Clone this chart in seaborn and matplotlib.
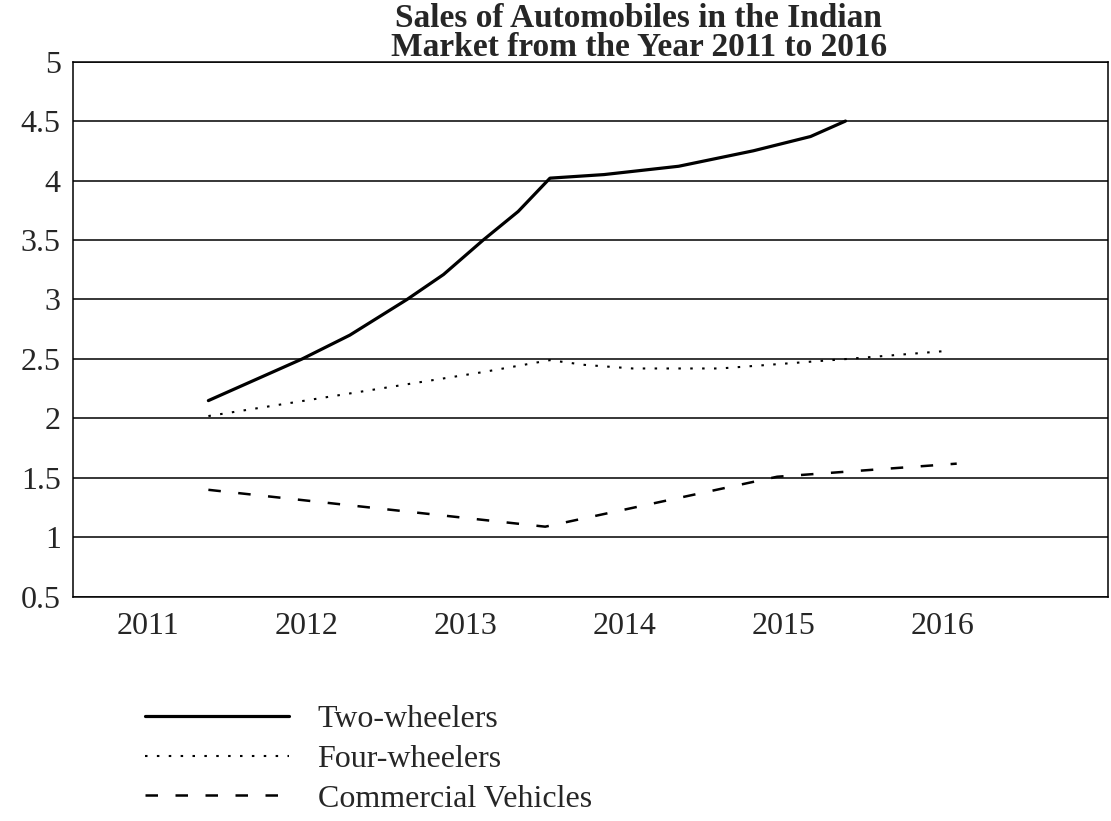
import matplotlib
matplotlib.use("Agg")
import matplotlib.pyplot as plt
import seaborn as sns
import pandas as pd

# values (x in fractional years, y in sales)
two_x = [2011.38, 2011.97, 2012.27, 2012.63, 2012.86, 2013.11, 2013.33, 2013.53,
         2013.87, 2014.34, 2014.81, 2015.17, 2015.39]
two_y = [2.15, 2.50, 2.70, 3.00, 3.21, 3.50, 3.74, 4.02,
         4.05, 4.12, 4.25, 4.37, 4.50]

four_x = [2011.38, 2012.27, 2013.11, 2013.53, 2013.75, 2014.05, 2014.6, 2015.0, 2015.4, 2016.05]
four_y = [2.02, 2.21, 2.39, 2.49, 2.45, 2.42, 2.42, 2.46, 2.50, 2.57]

comm_x = [2011.38, 2013.50, 2014.96, 2016.09]
comm_y = [1.40, 1.09, 1.51, 1.62]

years = [2011, 2012, 2013, 2014, 2015, 2016]
y_ticks = [0.5, 1, 1.5, 2, 2.5, 3, 3.5, 4, 4.5, 5]
y_labels = ["0.5", "1", "1.5", "2", "2.5", "3", "3.5", "4", "4.5", "5"]
names = ["Two-wheelers", "Four-wheelers", "Commercial Vehicles"]

sns.set_style("white")
plt.rcParams['font.family'] = ['Liberation Serif', 'DejaVu Serif']

fig = plt.figure(figsize=(11.11, 8.21), dpi=100)
ax = fig.add_axes([0.066, 0.273, 0.931, 0.652])

df_two = pd.DataFrame({"year": two_x, "sales": two_y})
df_four = pd.DataFrame({"year": four_x, "sales": four_y})
df_comm = pd.DataFrame({"year": comm_x, "sales": comm_y})

sns.lineplot(data=df_two, x="year", y="sales", ax=ax, color="black",
             linewidth=2.3, label=names[0])
sns.lineplot(data=df_four, x="year", y="sales", ax=ax, color="black",
             linewidth=1.5, linestyle=(0, (1.2, 4.5)), label=names[1])
sns.lineplot(data=df_comm, x="year", y="sales", ax=ax, color="black",
             linewidth=1.8, linestyle=(0, (5, 7)), label=names[2])

ax.set_xlim(2010.53, 2017.04)
ax.set_ylim(0.5, 5)
ax.set_xticks(years)
ax.set_xticklabels([str(y) for y in years], fontsize=23)
ax.set_yticks(y_ticks)
ax.set_yticklabels(y_labels, fontsize=23)
ax.tick_params(axis="x", direction="out", length=7, width=1, color="black", pad=4)
ax.tick_params(axis="y", length=0, pad=9)
ax.grid(axis="y", color="black", linewidth=1.1)
ax.set_xlabel("")
ax.set_ylabel("")
for s in ax.spines.values():
    s.set_color("black")
    s.set_linewidth(1.1)

fig.text(0.575, 1 - 27 / 821, "Sales of Automobiles in the Indian", ha="center",
         va="baseline", fontsize=24, fontweight="bold")
fig.text(0.575, 1 - 56 / 821, "Market from the Year 2011 to 2016", ha="center",
         va="baseline", fontsize=24, fontweight="bold")

ax.legend(loc="upper left", bbox_to_anchor=(145 / 1111, 1 - 705 / 821),
          bbox_transform=fig.transFigure, frameon=False, fontsize=23,
          handlelength=4.5, handletextpad=0.9, labelspacing=0.32,
          borderpad=0, borderaxespad=0)

fig.savefig("out.png", dpi=100)
